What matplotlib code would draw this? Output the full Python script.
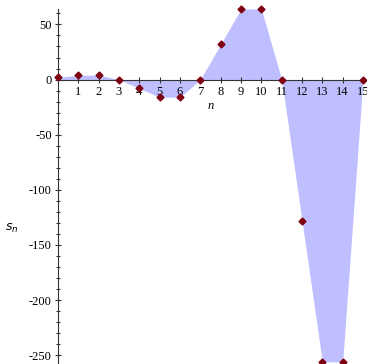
import numpy as np
import matplotlib.pyplot as plt
from matplotlib.ticker import MultipleLocator

n_vals = [0, 1, 2, 3, 4, 5, 6, 7, 8, 9, 10, 11, 12, 13, 14, 15]
s_vals = [2, 4, 4, 0, -8, -16, -16, 0, 32, 64, 64, 0, -128, -256, -256, 0]
x_ticks = list(range(1, 16))
y_ticks = [50, 0, -50, -100, -150, -200, -250]
y_labels = ['50', '0', '-50', '-100', '-150', '-200', '-250']

plt.rcParams['font.family'] = ['Liberation Serif', 'DejaVu Serif']

fig = plt.figure(figsize=(3.67, 3.64), dpi=100)
ax = fig.add_axes([58 / 367, 0.0, 305 / 367, 355 / 364])

ax.fill_between(n_vals, s_vals, 0, color='#bfbfff', linewidth=0, zorder=1)
ax.plot(n_vals, s_vals, linestyle='none', marker='D', markersize=3.5,
        color='#7f0011', zorder=4, clip_on=False)

ax.set_xlim(0, 15)
ax.set_ylim(-258, 64)

ax.spines['top'].set_visible(False)
ax.spines['right'].set_visible(False)
ax.spines['bottom'].set_position(('data', 0))
ax.spines['bottom'].set_zorder(3)
ax.spines['left'].set_color('#333333')
ax.spines['bottom'].set_color('#333333')

ax.set_xticks(x_ticks)
ax.set_xticklabels([str(t) for t in x_ticks], fontsize=9)
ax.set_yticks(y_ticks)
ax.set_yticklabels(y_labels, fontsize=9)
ax.yaxis.set_minor_locator(MultipleLocator(10))
ax.tick_params(axis='x', direction='inout', length=5, width=0.8, pad=2, colors='#333333', labelcolor='black')
ax.tick_params(axis='y', which='major', direction='inout', length=5, width=0.8, pad=2, colors='#333333', labelcolor='black')
ax.tick_params(axis='y', which='minor', direction='inout', length=3, width=0.8, colors='#333333')

ax.text(7.5, -24, 'n', fontsize=9, style='italic', ha='center', va='center')
ax.text(-2.3, -135, '$s_n$', fontsize=9, ha='center', va='center')

fig.savefig('out.png', dpi=100)
